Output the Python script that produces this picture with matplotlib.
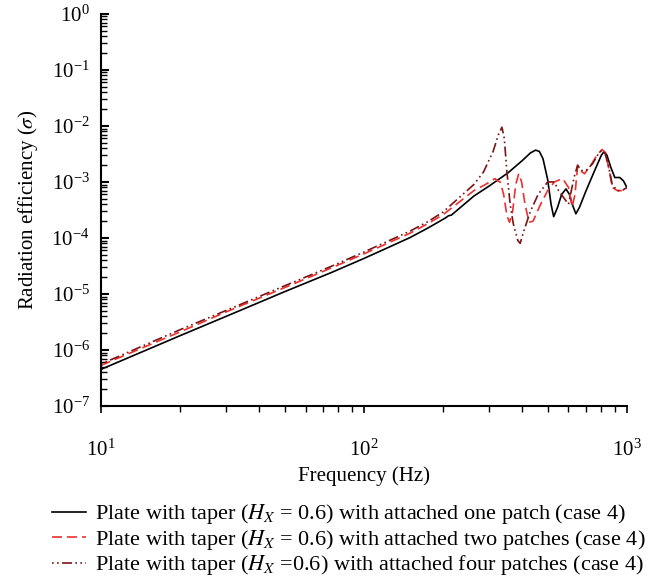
import matplotlib
matplotlib.use('Agg')
import matplotlib.pyplot as plt

plt.rcParams['font.family'] = ['Liberation Serif', 'DejaVu Serif']
plt.rcParams['mathtext.fontset'] = 'stix'

# one patch (black, solid)
f_one = [10, 20, 30, 50, 75, 100, 125, 150, 175, 200, 205, 210, 215, 262, 300,
         353, 400, 430, 450, 465, 480, 500, 515, 527, 545, 565, 587, 605, 620,
         640, 660, 700, 750, 800, 820, 840, 870, 900, 940, 970, 1000]
s_one = [4.5e-7, 1.8e-6, 4.0e-6, 1.1e-5, 2.4e-5, 4.3e-5, 6.9e-5, 1.02e-4, 1.5e-4,
         2.15e-4, 2.3e-4, 2.5e-4, 2.55e-4, 5.6e-4, 8.5e-4, 1.45e-3, 2.4e-3, 3.3e-3,
         3.7e-3, 3.5e-3, 2.6e-3, 1.1e-3, 4e-4, 2.4e-4, 3.5e-4, 6e-4, 7.5e-4, 6e-4,
         4e-4, 2.7e-4, 3.5e-4, 7e-4, 1.5e-3, 3.0e-3, 3.5e-3, 3.0e-3, 1.8e-3,
         1.2e-3, 1.2e-3, 1.05e-3, 8e-4]

# two patches (red, dashed)
f_two = [10, 20, 30, 50, 75, 100, 125, 150, 175, 200, 262, 290, 315, 322, 330,
         340, 350, 358, 368, 378, 388, 398, 410, 425, 440, 470, 500, 530, 570,
         600, 620, 635, 650, 665, 690, 730, 770, 805, 830, 860, 880, 920, 960,
         1000]
s_two = [5.3e-7, 2.1e-6, 4.8e-6, 1.3e-5, 2.9e-5, 5.2e-5, 8.3e-5, 1.22e-4, 1.8e-4,
         2.6e-4, 7e-4, 9e-4, 1.15e-3, 1.05e-3, 1.0e-3, 6e-4, 2.5e-4, 1.9e-4, 3e-4,
         9e-4, 1.4e-3, 1.0e-3, 4e-4, 1.9e-4, 2e-4, 4e-4, 7e-4, 1.0e-3, 1.15e-3,
         8e-4, 3.6e-4, 6e-4, 1.9e-3, 1.6e-3, 1.4e-3, 2e-3, 3e-3, 3.8e-3, 3.3e-3,
         1.5e-3, 8e-4, 7e-4, 7e-4, 7.5e-4]

# four patches (dark red, dash-dot)
f_four = [10, 20, 30, 50, 75, 100, 125, 150, 175, 200, 262, 285, 310, 325, 335,
          342, 350, 360, 370, 385, 393, 405, 430, 460, 500, 530, 550, 600, 630,
          650, 670, 700, 740, 780, 800, 825, 850, 880, 920, 960, 1000]
s_four = [5.6e-7, 2.3e-6, 5.1e-6, 1.4e-5, 3.1e-5, 5.6e-5, 9e-5, 1.33e-4, 1.95e-4,
          2.9e-4, 9e-4, 1.5e-3, 3.5e-3, 7e-3, 9.5e-3, 6e-3, 1.5e-3, 4e-4, 1.8e-4,
          9e-5, 8e-5, 1.3e-4, 3e-4, 6e-4, 1.0e-3, 1.0e-3, 7e-4, 4e-4, 1.2e-3,
          2e-3, 1.6e-3, 1.6e-3, 2.1e-3, 3.2e-3, 3.6e-3, 3.3e-3, 2e-3, 9e-4, 7e-4,
          7e-4, 8e-4]

labels = [r'Plate with taper ($H_X$ = 0.6) with attached one patch (case 4)',
          r'Plate with taper ($H_X$ = 0.6) with attached two patches (case 4)',
          r'Plate with taper ($H_X$ =0.6) with attached four patches (case 4)']

fs = 15

fig = plt.figure(figsize=(6.55, 5.8), dpi=100)
ax = fig.add_axes([0.154, 0.300, 0.803, 0.676])

ax.loglog(f_one, s_one, color='black', lw=1.2, label=labels[0])
ax.loglog(f_two, s_two, color='#ee3030', lw=1.2, dashes=(6, 3), label=labels[1])
ax.loglog(f_four, s_four, color='#7a1515', lw=1.2,
          dashes=(1, 2, 1, 2, 6, 2), label=labels[2])

ax.set_xlim(10, 1000)
ax.set_ylim(1e-7, 1)
ax.spines['top'].set_visible(False)
ax.spines['right'].set_visible(False)
ax.spines['left'].set_linewidth(1.5)
ax.spines['bottom'].set_linewidth(1.5)
ax.tick_params(axis='x', which='major', direction='out', length=5, width=1.2,
               labelsize=fs, pad=19)
ax.tick_params(axis='x', which='minor', direction='out', length=4, width=1.0)
ax.tick_params(axis='y', which='major', direction='in', length=6, width=1.5,
               labelsize=fs, pad=8)
ax.tick_params(axis='y', which='minor', direction='in', length=4, width=1.0)

ax.set_xlabel('Frequency (Hz)', fontsize=fs, labelpad=4)
ax.set_ylabel(r'Radiation efficiency ($\sigma$)', fontsize=fs, labelpad=8)

fig.legend(loc='upper left', bbox_to_anchor=(0.080, 0.134), frameon=False,
           fontsize=16, handlelength=1.5, labelspacing=0.07, borderpad=0,
           borderaxespad=0, handletextpad=0.4)

fig.savefig('out.png', dpi=100)
